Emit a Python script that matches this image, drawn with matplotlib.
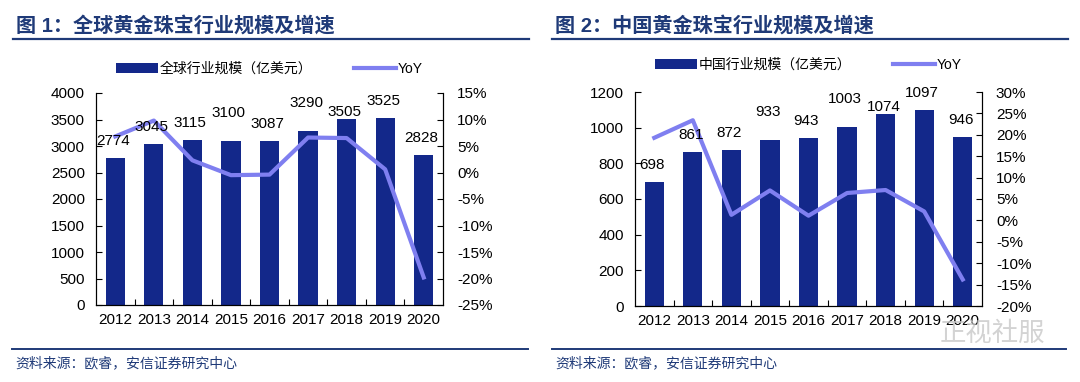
import matplotlib
matplotlib.use('Agg')
import matplotlib.pyplot as plt
from matplotlib.lines import Line2D
import numpy as np

plt.rcParams['font.family'] = ['Liberation Sans', 'Noto Sans CJK SC', 'DejaVu Sans']

years = ['2012', '2013', '2014', '2015', '2016', '2017', '2018', '2019', '2020']

global_size = [2774, 3045, 3115, 3100, 3087, 3290, 3505, 3525, 2828]
global_yoy = [6.8, 9.8, 2.3, -0.5, -0.4, 6.6, 6.5, 0.6, -19.8]

china_size = [698, 861, 872, 933, 943, 1003, 1074, 1097, 946]
china_yoy = [19.3, 23.4, 1.3, 7.0, 1.1, 6.4, 7.1, 2.1, -13.8]

# data label offsets (pixels above bar top), hand-moved in the original
label_dy = [17, 17, 17, 28, 17, 28, 7, 17, 17]

BAR = '#13288a'
LINE = '#7f7ff0'
NAVY = '#1f3a78'

W, H = 1080, 382
fig = plt.figure(figsize=(W / 100, H / 100), dpi=100)


def px(x0, y0, w, h):
    return [x0 / W, 1 - (y0 + h) / H, w / W, h / H]


def panel(rect, sizes, yoy, ymax, ystep, rlim, rstep, bar_name, leg_y):
    ax = fig.add_axes(px(*rect))
    x = np.arange(len(years))
    ax.bar(x, sizes, width=0.5, color=BAR, label=bar_name, zorder=2)
    ax.set_xlim(-0.5, len(years) - 0.5)
    ax.set_ylim(0, ymax)
    ax.set_yticks(np.arange(0, ymax + 1, ystep))
    ax.set_xticks(x)
    ax.set_xticklabels(years)
    ax.set_xticks(x[:-1] + 0.5, minor=True)
    ax.tick_params(axis='x', which='major', length=0, pad=6, labelsize=11)
    ax.tick_params(axis='x', which='minor', length=4, direction='in', width=0.8)
    ax.tick_params(axis='y', length=4, direction='in', width=0.8, labelsize=11, pad=8)
    ax.spines['top'].set_visible(False)
    for s in ['left', 'bottom', 'right']:
        ax.spines[s].set_linewidth(0.8)

    ax2 = ax.twinx()
    ax2.plot(x, yoy, color=LINE, lw=3, label='YoY', zorder=3)
    ax2.set_ylim(*rlim)
    ax2.set_yticks(np.arange(rlim[0], rlim[1] + 0.1, rstep))
    ax2.set_yticklabels(['%d%%' % v for v in np.arange(rlim[0], rlim[1] + 0.1, rstep)])
    ax2.tick_params(axis='y', length=4, direction='in', width=0.8, labelsize=11, pad=10)
    ax2.spines['top'].set_visible(False)
    ax2.spines['right'].set_linewidth(0.8)

    for i, v in enumerate(sizes):
        ax2.annotate(str(v), xy=(i, v), xycoords=ax.transData,
                     xytext=(-2, label_dy[i]), textcoords='offset pixels',
                     ha='center', va='center', fontsize=11, zorder=5)

    h1, l1 = ax.get_legend_handles_labels()
    h2, l2 = ax2.get_legend_handles_labels()
    ax2.legend(h1 + h2, l1 + l2, ncol=2, loc='center', frameon=False,
               bbox_to_anchor=(0.5, 1 + leg_y / rect[3]), fontsize=10,
               handlelength=3.0, handleheight=0.75, handletextpad=0.15,
               columnspacing=3.0, borderaxespad=0)
    return ax, ax2


panel((96, 93, 347, 212), global_size, global_yoy, 4000, 500, (-25, 15), 5,
      '全球行业规模（亿美元）', 24)
panel((635, 92, 347, 214), china_size, china_yoy, 1200, 200, (-20, 30), 5,
      '中国行业规模（亿美元）', 27)

# titles, rules and footers
titles = ['图 1：全球黄金珠宝行业规模及增速', '图 2：中国黄金珠宝行业规模及增速']
for tx, title, x0, x1 in [(16, titles[0], 13, 529), (555, titles[1], 552, 1068)]:
    fig.text(tx / W, 1 - 26 / H, title, fontsize=14.5, fontweight='bold',
             color=NAVY, va='center', ha='left')
    fig.add_artist(Line2D([x0 / W, x1 / W], [1 - 38.5 / H] * 2, color=NAVY, lw=1.6))

for tx, x0, x1 in [(15, 12, 528), (555, 552, 1066)]:
    fig.add_artist(Line2D([x0 / W, x1 / W], [1 - 349 / H] * 2, color=NAVY, lw=1.4))
    fig.text(tx / W, 1 - 363 / H, '资料来源：欧睿，安信证券研究中心', fontsize=10,
             color=NAVY, va='center', ha='left', style='italic')

# watermark
fig.text(940 / W, 1 - 334 / H, '正视社服', fontsize=19, color='#c8c8c8',
         alpha=0.8, va='center', ha='left')

fig.savefig('out.png', dpi=100)
